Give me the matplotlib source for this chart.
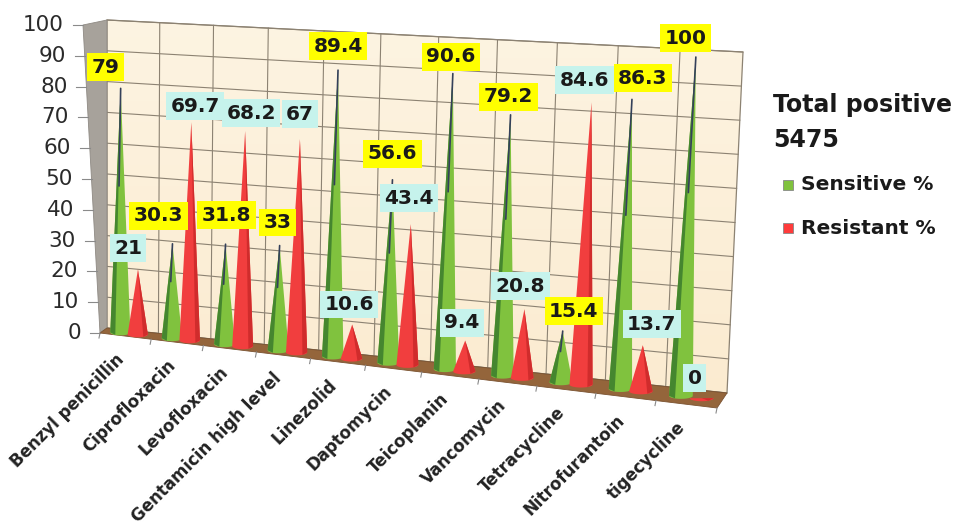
import matplotlib
matplotlib.use("Agg")
import matplotlib.pyplot as plt
from matplotlib.patches import Polygon, Rectangle
import numpy as np

# data
antibiotics = [
    "Benzyl penicillin", "Ciprofloxacin", "Levofloxacin", "Gentamicin high level",
    "Linezolid", "Daptomycin", "Teicoplanin", "Vancomycin", "Tetracycline",
    "Nitrofurantoin", "tigecycline",
]
sensitive = [79, 30.3, 31.8, 33, 89.4, 56.6, 90.6, 79.2, 15.4, 86.3, 100]
resistant = [21, 69.7, 68.2, 67, 10.6, 43.4, 9.4, 20.8, 84.6, 13.7, 0]
y_ticks = [0, 10, 20, 30, 40, 50, 60, 70, 80, 90, 100]
total_positive = 5475

# label nudges (pixels) relative to each cone tip
sens_shift = [(-15, -21), (-14, -28), (1, -29), (-2, -23), (0, -24), (0, -26),
              (-2, -17), (-2, -18), (11, -20), (11, -21), (-10, -19)]
res_shift = [(-10, -21), (4, -16), (6, -18), (0, -25), (-3, -20), (-2, -26),
             (-3, -18), (-4, -23), (-7, -22), (9, -21), (-7, -20)]

GREEN = "#80c23e"
GREEN_DARK = "#45862f"
RED = "#f13e3e"
RED_DARK = "#d02c2c"

N = len(antibiotics)


def depth_t(u):
    # perspective: category slots get wider towards the right
    a, b = 51.5, 0.5
    return (a * u + b * u * u) / (a * N + b * N * N)


def project(u, v, d=0.0):
    """u: position along category axis (0..N), v: value (0..100),
    d: depth on the floor (0 = back wall, 1 = front edge)."""
    t = depth_t(u)
    bx, by = 107 + 620 * t, 328 + 65 * t
    fx, fy = 100 + 617 * t, 333 + 75 * t
    tx, ty = 107 + 636 * t, 20 + 32 * t
    s = v / 100.0
    x0 = bx + (fx - bx) * d
    y0 = by + (fy - by) * d
    return x0 + (tx - bx) * s, y0 + (ty - by) * s


def draw_cone(ax, u, v, body, shade, left_shade):
    t = depth_t(u)
    cx, cy = project(u, 0, 0.5)
    px, py = project(u, v, 0.5)
    hw = 10 + 2 * t
    th = np.linspace(0, np.pi, 20)
    arc = np.column_stack([cx + hw * np.cos(th), cy + 3 * np.sin(th)])
    pts = np.vstack([[px, py], arc])
    ax.add_patch(Polygon(pts, closed=True, fc=body, ec="none", zorder=5))
    if left_shade:
        sl = [[px, py], [cx - hw, cy], [cx - hw * 0.5, cy + 2.5]]
    else:
        sl = [[px, py], [cx + hw, cy], [cx + hw * 0.55, cy + 2.5]]
    ax.add_patch(Polygon(sl, closed=True, fc=shade, ec="none", zorder=6))
    if v > 0 and left_shade:
        ax.plot([px, px + (cx - px) * 0.4 - 1.5], [py, py + (cy - py) * 0.4],
                color="#34405a", lw=1.2, zorder=7, solid_capstyle="round")
    return px, py


fig = plt.figure(figsize=(9.6, 5.31), dpi=100)
ax = fig.add_axes([0, 0, 1, 1])
ax.set_xlim(0, 960)
ax.set_ylim(531, 0)
ax.axis("off")

# back wall with a soft vertical gradient
wall = [project(u, 0) for u in np.linspace(0, N, 12)] + \
       [project(u, 100) for u in np.linspace(N, 0, 12)]
wall_patch = Polygon(wall, closed=True, fc="none", ec="#8c8272", lw=0.9, zorder=2)
ax.add_patch(wall_patch)
grad = np.linspace(0, 1, 256).reshape(-1, 1)
cmap = matplotlib.colors.LinearSegmentedColormap.from_list("wall", ["#fdf4e2", "#fbebd0"])
im = ax.imshow(grad, extent=[100, 750, 400, 15], cmap=cmap, aspect="auto", zorder=1)
im.set_clip_path(Polygon(wall, closed=True, transform=ax.transData))

# grid on the back wall
for v in y_ticks:
    (x1, y1), (x2, y2) = project(0, v), project(N, v)
    ax.plot([x1, x2], [y1, y2], color="#8c8272", lw=0.8, zorder=2)
for u in range(1, N):
    (x1, y1), (x2, y2) = project(u, 0), project(u, 100)
    ax.plot([x1, x2], [y1, y2], color="#8c8272", lw=0.8, zorder=2)

# left side wall
bl_in, tl_in = project(0, 0), project(0, 100)
bl_out = project(0, 0, 1)
tl_out = (tl_in[0] - 24, tl_in[1] + 5)
ax.add_patch(Polygon([tl_out, tl_in, bl_in, bl_out], closed=True,
                     fc="#a7a29b", ec="#8f8a84", lw=0.6, zorder=3))

# y axis ticks along the outer edge of the side wall
for v in y_ticks:
    s = v / 100.0
    ox = bl_out[0] + (tl_out[0] - bl_out[0]) * s
    oy = bl_out[1] + (tl_out[1] - bl_out[1]) * s
    ax.plot([ox - 10, ox], [oy, oy], color="#8a8a8a", lw=0.8, zorder=3)
    ax.text(ox - 19, oy, str(v), ha="right", va="center", fontsize=15.5,
            color="#2a2a2a", zorder=3)

# floor
floor = [project(u, 0, 0) for u in np.linspace(0, N, 12)] + \
        [project(u, 0, 1) for u in np.linspace(N, 0, 12)]
ax.add_patch(Polygon(floor, closed=True, fc="#94653b", ec="#7a5230", lw=0.6, zorder=4))
for u in range(N + 1):
    x, y = project(u, 0, 1)
    ax.plot([x, x - 1], [y, y + 5], color="#8a8a8a", lw=0.8, zorder=4)

# cones and data labels
for i in range(N):
    gx, gy = draw_cone(ax, i + 0.33, sensitive[i], GREEN, GREEN_DARK, True)
    rx, ry = draw_cone(ax, i + 0.67, resistant[i], RED, RED_DARK, False)
    dx, dy = sens_shift[i]
    ax.text(gx + dx, gy + dy, f"{sensitive[i]:g}", ha="center", va="center",
            fontsize=14.5, fontweight="bold", color="#1a1a1a", zorder=10,
            bbox=dict(boxstyle="square,pad=0.22", fc="#ffff00", ec="none"))
    dx, dy = res_shift[i]
    ax.text(rx + dx, ry + dy, f"{resistant[i]:g}", ha="center", va="center",
            fontsize=14.5, fontweight="bold", color="#1a1a1a", zorder=10,
            bbox=dict(boxstyle="square,pad=0.22", fc="#c6f3ec", ec="none"))

# category labels
for i, name in enumerate(antibiotics):
    x, y = project(i + 0.5, 0, 1)
    ax.text(x + 2, y + 14, name, rotation=45, ha="right", va="top",
            fontsize=12, fontweight="bold", color="#222222")

# legend
ax.text(773, 112, "Total positive", fontsize=17, fontweight="bold",
        color="#1a1a1a", va="baseline")
ax.text(773, 147, str(total_positive), fontsize=17, fontweight="bold",
        color="#1a1a1a", va="baseline")
for yc, col, lab in [(185, GREEN, "Sensitive %"), (228, "#ff3b3b", "Resistant %")]:
    ax.add_patch(Rectangle((783, yc - 5), 10, 10, fc=col, ec="#888888", lw=0.6))
    ax.text(801, yc, lab, fontsize=14.5, fontweight="bold", color="#1a1a1a",
            va="center")

fig.savefig("out.png", dpi=100)
